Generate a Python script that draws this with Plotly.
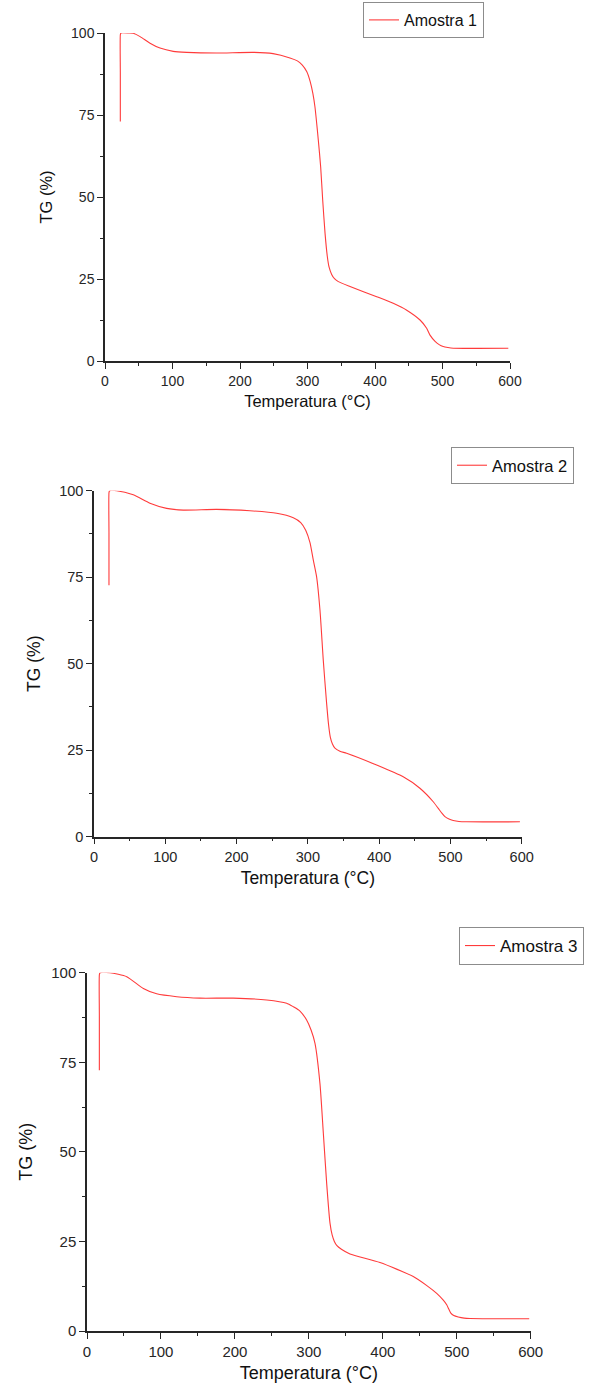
import plotly.graph_objects as go

# ---------------- data ----------------
temp_1 = [22.7, 22.7, 22.75, 23.6, 35, 42, 52, 66.7, 81.5, 101, 121, 165, 220, 249, 274, 285, 292, 299,
          304, 308, 311, 316, 319.5, 322.5, 326, 329.4, 332, 335.8, 340, 345.7, 363, 402.5, 427, 447,
          466.7, 476.5, 481.5, 489, 495, 501, 508, 516, 597.5]
tg_1 = [73, 88, 99.5, 100, 100, 99.9, 98.9, 96.9, 95.4, 94.4, 94.1, 93.9, 94.1, 93.7, 92.4, 91.5, 90.3,
        88.2, 85.2, 81.5, 77.5, 67.4, 59.2, 49.1, 38.9, 31.8, 28.6, 26.4, 25.1, 24.2, 22.7, 19.6, 17.6,
        15.5, 12.5, 10.0, 7.9, 6.0, 5.0, 4.4, 4.1, 3.9, 3.9]

temp_2 = [21, 21, 21.05, 21.9, 31.8, 55.1, 78.5, 101.9, 125.3, 172, 218.8, 256.2, 279.6, 290, 297, 303,
          307.6, 312.3, 317, 321.6, 326.3, 329, 331.5, 334.5, 338, 345, 354.4, 396.5, 433.8, 457.2,
          475.9, 482.9, 488, 492.3, 498, 503.9, 512, 522.7, 597.5]
tg_2 = [72.7, 88, 99.5, 100, 100, 98.8, 96.4, 94.9, 94.4, 94.6, 94.2, 93.5, 92.2, 90.8, 88.6, 85,
        80, 75.1, 65.5, 51.1, 38.6, 32.5, 28.8, 26.8, 25.6, 24.7, 24.1, 20.7, 17.3, 14,
        10.1, 8.2, 6.8, 5.8, 5.1, 4.7, 4.4, 4.3, 4.3]

temp_3 = [16.7, 16.7, 16.75, 17.6, 31.1, 53.7, 76.2, 94.2, 121.3, 152.8, 197.8, 243, 270, 279, 288, 297,
          303, 308.3, 315, 319.6, 324.1, 328.6, 331.5, 334.5, 338, 344, 355.6, 396.2, 441.2, 460,
          472.9, 481.8, 486.4, 489.5, 492, 496, 502, 510, 517.9, 598]
tg_3 = [72.8, 88, 99.5, 100, 100, 98.9, 95.6, 94.1, 93.3, 92.9, 92.9, 92.4, 91.5, 90.5, 89.3, 86.8,
        84, 80.3, 69.1, 55.2, 41.2, 30.1, 26.8, 25, 23.8, 22.8, 21.5, 19.1, 15.2, 12.6,
        10.5, 8.6, 7.3, 6.0, 5.0, 4.3, 3.9, 3.6, 3.5, 3.4]

series_names = ["Amostra 1", "Amostra 2", "Amostra 3"]
x_title = "Temperatura (°C)"
y_title = "TG (%)"
x_ticks = [0, 100, 200, 300, 400, 500, 600]
y_ticks = [0, 25, 50, 75, 100]

# ---------------- layout geometry ----------------
W, H = 590, 1389
FONT = "Liberation Sans, Arial, sans-serif"
AX = "#262626"
RED = "#ff3b3b"

# pixel boxes: (x_left, x_right, y_top(100), y_bottom(0))
boxes = [(105, 510, 33, 361), (94, 521.7, 490.7, 836.7), (87, 530.7, 972.7, 1331)]
legend_pos = [(363, 2), (451, 447), (459, 927)]
tick_fs = [14, 14.5, 15]
title_fs = [16.5, 17.5, 18]
legend_fs = [16, 16.5, 17]

datasets = [(temp_1, tg_1), (temp_2, tg_2), (temp_3, tg_3)]

fig = go.Figure()
layout = dict(
    width=W, height=H, showlegend=True,
    margin=dict(l=0, r=0, t=0, b=0, autoexpand=False),
    paper_bgcolor="white", plot_bgcolor="white",
    font=dict(family=FONT, color=AX),
)

for i, ((tx, ty), name, (xl, xr, yt, yb), (lx, ly)) in enumerate(
        zip(datasets, series_names, boxes, legend_pos)):
    k = "" if i == 0 else str(i + 1)
    lg = "legend" + k
    fig.add_trace(go.Scatter(
        x=tx, y=ty, mode="lines", name=name, showlegend=True,
        line=dict(color=RED, width=1.1, shape="spline", smoothing=0.6),
        xaxis="x" + k, yaxis="y" + k, legend=lg,
    ))
    layout["xaxis" + k] = dict(
        domain=[xl / W, xr / W], anchor="y" + k, range=[0, 600],
        tickvals=x_ticks, ticks="outside", ticklen=6, tickwidth=1.3, tickcolor=AX,
        showline=True, linecolor=AX, linewidth=1.5, showgrid=False, zeroline=False,
        tickfont=dict(size=tick_fs[i], family=FONT, color=AX),
        minor=dict(dtick=50, tick0=0, ticks="outside", ticklen=3, tickcolor=AX, showgrid=False),
        title=dict(text=x_title, font=dict(size=title_fs[i], family=FONT, color="#111"), standoff=8),
        fixedrange=True,
    )
    layout["yaxis" + k] = dict(
        domain=[(H - yb) / H, (H - yt) / H], anchor="x" + k, range=[0, 100],
        tickvals=y_ticks, ticks="outside", ticklen=6, tickwidth=1.3, tickcolor=AX,
        showline=True, linecolor=AX, linewidth=1.5, showgrid=False, zeroline=False,
        tickfont=dict(size=tick_fs[i], family=FONT, color=AX),
        minor=dict(dtick=12.5, tick0=0, ticks="outside", ticklen=3, tickcolor=AX, showgrid=False),
        title=dict(text=y_title, font=dict(size=title_fs[i], family=FONT, color="#111"), standoff=14),
        fixedrange=True,
    )
    layout[lg] = dict(
        x=lx / W, y=1 - ly / H, xanchor="left", yanchor="top",
        bgcolor="white", bordercolor="#8c8c8c", borderwidth=1,
        font=dict(size=legend_fs[i], family=FONT, color="#111"),
        itemwidth=30, visible=True,
    )

fig.update_layout(**layout)
fig.write_html("out.html")
